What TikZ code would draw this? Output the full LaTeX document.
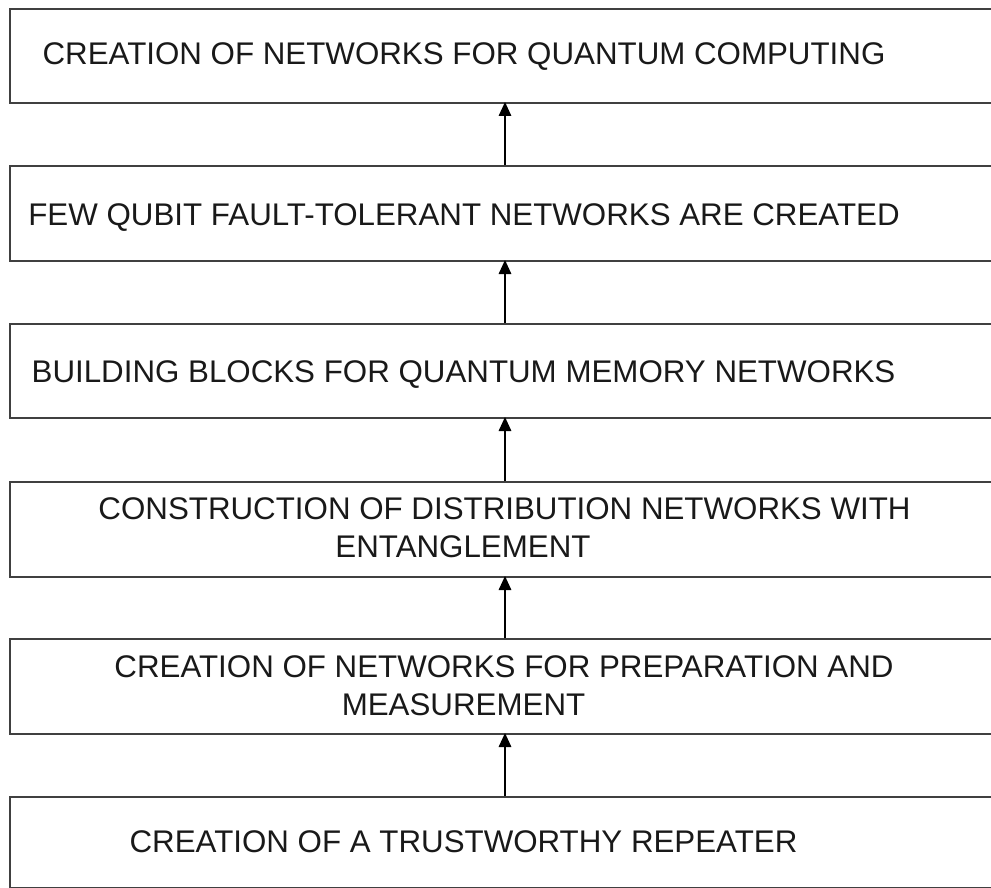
\documentclass[tikz,border=0pt]{standalone}
\usepackage{fontspec}
\setmainfont{Liberation Sans}
\usetikzlibrary{arrows.meta}
\begin{document}
\begin{tikzpicture}[x=1pt,y=-1pt,
  stage/.style={draw=black!75, line width=2.2pt, rectangle, anchor=north west, inner sep=0pt},
  label/.style={anchor=base, inner sep=0pt, font=\fontsize{31.3}{36}\selectfont, text=black!90},
  flow/.style={draw=black, line width=1.5pt, -{Triangle[width=12.5pt,length=14pt]}}]
\useasboundingbox (0,0) rectangle (991,888);
\fill[white] (0,0) rectangle (991,888);

% stage boxes (they run on past the right edge)
\node[stage, minimum width=1000pt, minimum height=94pt] (b1) at (9,8) {};
\node[stage, minimum width=1000pt, minimum height=95pt] (b2) at (9,165) {};
\node[stage, minimum width=1000pt, minimum height=94pt] (b3) at (9,323) {};
\node[stage, minimum width=1000pt, minimum height=95pt] (b4) at (9,481) {};
\node[stage, minimum width=1000pt, minimum height=95pt] (b5) at (9,638) {};
\node[stage, minimum width=1000pt, minimum height=91pt] (b6) at (9,796) {};

% labels
\node[label] (t1) at (464,65) {CREATION OF NETWORKS FOR QUANTUM COMPUTING};
\node[label] (t2) at (464,225) {FEW QUBIT FAULT-TOLERANT NETWORKS ARE CREATED};
\node[label] (t3) at (463.5,382) {BUILDING BLOCKS FOR QUANTUM MEMORY NETWORKS};
\node[label] (t4a) at (504.5,519) {CONSTRUCTION OF DISTRIBUTION NETWORKS WITH};
\node[label] (t4b) at (463,557) {ENTANGLEMENT};
\node[label] (t5a) at (504,677) {CREATION OF NETWORKS FOR PREPARATION AND};
\node[label] (t5b) at (463.5,715) {MEASUREMENT};
\node[label] (t6) at (463.5,852) {CREATION OF A TRUSTWORTHY REPEATER};

% upward flow between stages
\coordinate (a6) at (505,796); \coordinate (h5) at (505,733);
\coordinate (a5) at (505,638); \coordinate (h4) at (505,576);
\coordinate (a4) at (505,481); \coordinate (h3) at (505,417);
\coordinate (a3) at (505,323); \coordinate (h2) at (505,260);
\coordinate (a2) at (505,165); \coordinate (h1) at (505,102);
\draw[flow] (a6) -- (h5);
\draw[flow] (a5) -- (h4);
\draw[flow] (a4) -- (h3);
\draw[flow] (a3) -- (h2);
\draw[flow] (a2) -- (h1);
\end{tikzpicture}
\end{document}
